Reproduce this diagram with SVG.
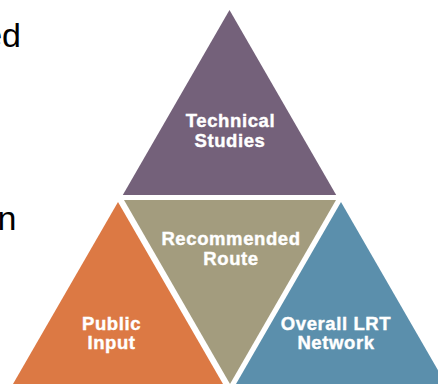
<svg xmlns="http://www.w3.org/2000/svg" width="438" height="384" viewBox="0 0 438 384">
<style>
.lbl{font-family:"Liberation Sans",Arial,sans-serif;font-weight:bold;font-size:18.5px;fill:#ffffff;stroke:#ffffff;stroke-width:0.4px;text-anchor:middle;letter-spacing:0.6px}
.side{font-family:"Liberation Sans",Arial,sans-serif;font-size:34px;fill:#000000;text-anchor:end}
</style>
<rect width="438" height="384" fill="#ffffff"/>
<text class="side" x="21" y="46.5">ed</text>
<text class="side" x="16.5" y="230">n</text>
<g id="technical-studies">
<polygon points="229.5,10 122.8,195 336.2,195" fill="#74617a"/>
<text class="lbl" x="230.5" y="127">Technical</text>
<text class="lbl" x="230" y="147">Studies</text>
</g>
<g id="recommended-route">
<polygon points="124,200 336,200 230,384" fill="#a39c7e"/>
<text class="lbl" x="231" y="245">Recommended</text>
<text class="lbl" x="231" y="265">Route</text>
</g>
<g id="public-input">
<polygon points="118,202 223,384 13,384" fill="#dc7944"/>
<text class="lbl" x="111.5" y="330">Public</text>
<text class="lbl" x="111.5" y="349">Input</text>
</g>
<g id="overall-lrt-network">
<polygon points="341,202 446,384 236,384" fill="#5b8fac"/>
<text class="lbl" x="336" y="330">Overall LRT</text>
<text class="lbl" x="336" y="349">Network</text>
</g>
<g id="connectors"></g>
</svg>
